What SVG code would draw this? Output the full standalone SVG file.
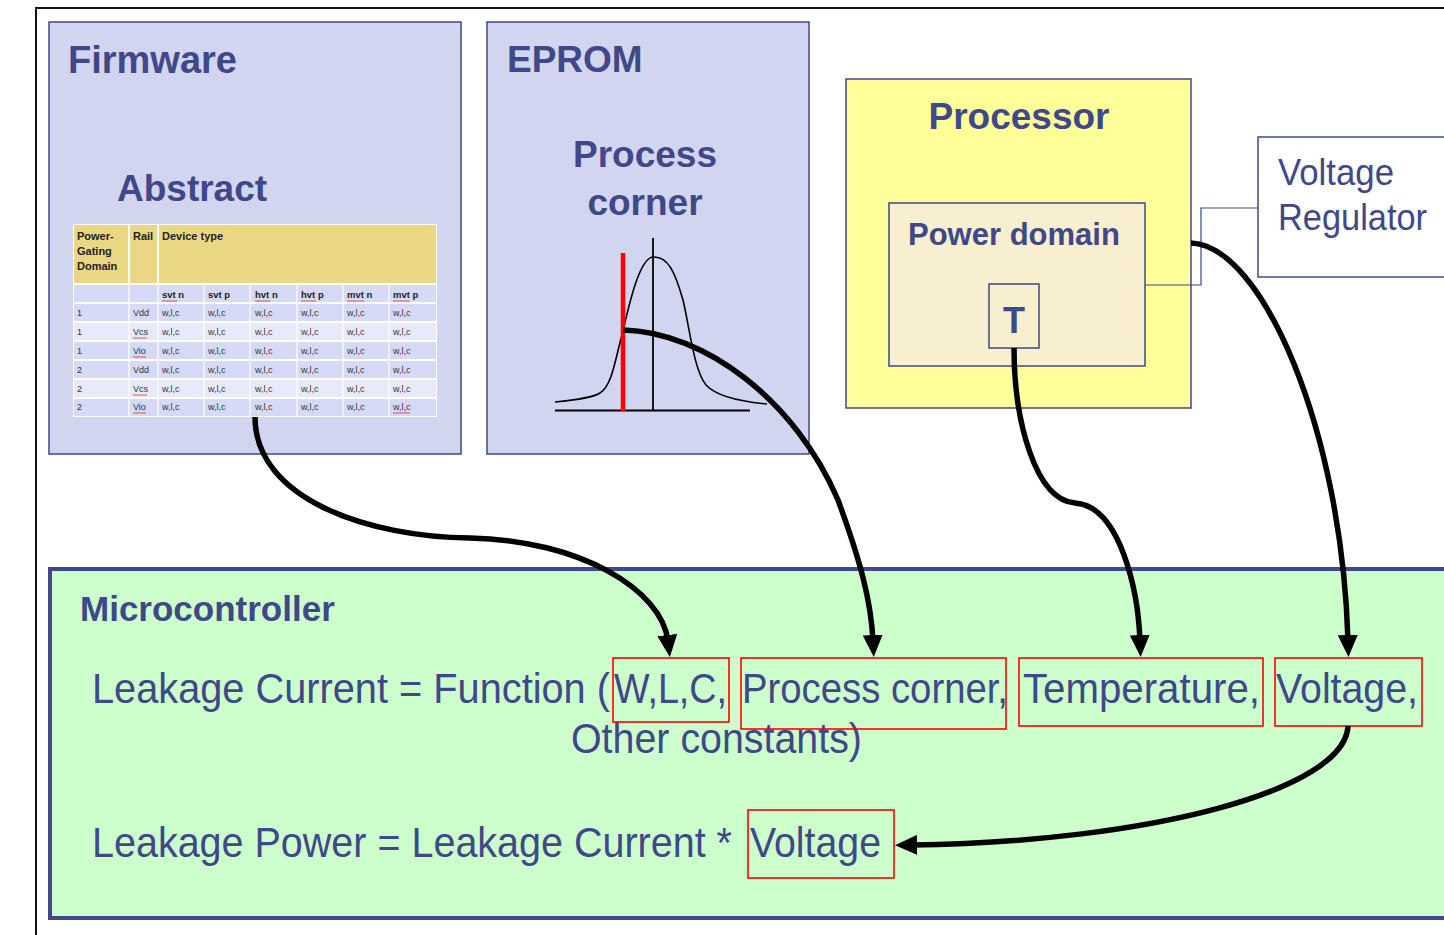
<svg xmlns="http://www.w3.org/2000/svg" width="1444" height="935" viewBox="0 0 1444 935">
<style>
.hdr{font-family:"Liberation Sans",Arial,sans-serif;font-weight:bold;fill:#404889}
.eq{font-family:"Liberation Sans",Arial,sans-serif;font-size:39.5px;fill:#404889}
.vr{font-family:"Liberation Sans",Arial,sans-serif;font-size:37px;fill:#404889}
.tb{font-family:"Liberation Sans",Arial,sans-serif;font-weight:bold;font-size:11px;fill:#222}
.ts{font-family:"Liberation Sans",Arial,sans-serif;font-weight:bold;font-size:9.5px;fill:#222}
.td{font-family:"Liberation Sans",Arial,sans-serif;font-size:9px;fill:#333}
.box{stroke:#404889;stroke-width:1.5}
.rb{fill:none;stroke:#ff0000;stroke-width:1.6}
.con{fill:none;stroke:#000;stroke-width:5.5}
.sq{stroke:#e03030;stroke-width:0.8}
</style>
<defs>
<marker id="ah" markerUnits="userSpaceOnUse" markerWidth="22" markerHeight="20" refX="6" refY="10" orient="auto">
<path d="M0,0 L22,10 L0,20 z" fill="#000"/>
</marker>
</defs>
<rect width="1444" height="935" fill="#fff"/>
<path d="M36,935 V8 H1444" fill="none" stroke="#111" stroke-width="2"/>

<g id="firmware">
<rect class="box" x="49" y="22" width="412" height="432" fill="#d1d5f0"/>
<text class="hdr" x="68" y="73" font-size="38">Firmware</text>
<text class="hdr" x="117" y="201" font-size="37">Abstract</text>
<g id="table">
<rect x="73" y="224" width="364" height="193" fill="#ffffff"/>
<rect x="74" y="225" width="54" height="58" fill="#ead783"/>
<rect x="130" y="225" width="27" height="58" fill="#ead783"/>
<rect x="159" y="225" width="277" height="58" fill="#ead783"/>
<g fill="#d6daf7">
<rect x="74" y="285" width="362" height="17"/>
<rect x="74" y="304" width="362" height="17"/>
<rect x="74" y="342" width="362" height="17"/>
<rect x="74" y="361" width="362" height="17"/>
<rect x="74" y="399" width="362" height="17"/>
</g>
<g fill="#e8eafb">
<rect x="74" y="323" width="362" height="17"/>
<rect x="74" y="380" width="362" height="17"/>
</g>
<g stroke="#ffffff" stroke-width="1.2">
<line x1="129" y1="224" x2="129" y2="417"/><line x1="158" y1="224" x2="158" y2="417"/>
<line x1="204" y1="284" x2="204" y2="417"/><line x1="250" y1="284" x2="250" y2="417"/>
<line x1="297" y1="284" x2="297" y2="417"/><line x1="343" y1="284" x2="343" y2="417"/>
<line x1="389" y1="284" x2="389" y2="417"/>
</g>
<text class="tb" x="77" y="240">Power-</text>
<text class="tb" x="77" y="255">Gating</text>
<text class="tb" x="77" y="270">Domain</text>
<text class="tb" x="133" y="240">Rail</text>
<text class="tb" x="162" y="240">Device type</text>
<text class="ts" y="298"><tspan x="162">svt n</tspan><tspan x="208">svt p</tspan><tspan x="255">hvt n</tspan><tspan x="301">hvt p</tspan><tspan x="347">mvt n</tspan><tspan x="393">mvt p</tspan></text>
<g class="sq"><line x1="162" y1="301" x2="177" y2="301"/><line x1="255" y1="301" x2="270" y2="301"/><line x1="301" y1="301" x2="316" y2="301"/><line x1="347" y1="301" x2="364" y2="301"/><line x1="393" y1="301" x2="410" y2="301"/><line x1="133" y1="338" x2="147" y2="338"/><line x1="133" y1="357" x2="146" y2="357"/><line x1="133" y1="395" x2="147" y2="395"/><line x1="133" y1="413" x2="146" y2="413"/><line x1="393" y1="413" x2="410" y2="413"/></g>
<g class="td">
<text y="316"><tspan x="77">1</tspan><tspan x="133">Vdd</tspan><tspan x="162">w,l,c</tspan><tspan x="208">w,l,c</tspan><tspan x="255">w,l,c</tspan><tspan x="301">w,l,c</tspan><tspan x="347">w,l,c</tspan><tspan x="393">w,l,c</tspan></text>
<text y="335"><tspan x="77">1</tspan><tspan x="133">Vcs</tspan><tspan x="162">w,l,c</tspan><tspan x="208">w,l,c</tspan><tspan x="255">w,l,c</tspan><tspan x="301">w,l,c</tspan><tspan x="347">w,l,c</tspan><tspan x="393">w,l,c</tspan></text>
<text y="354"><tspan x="77">1</tspan><tspan x="133">Vio</tspan><tspan x="162">w,l,c</tspan><tspan x="208">w,l,c</tspan><tspan x="255">w,l,c</tspan><tspan x="301">w,l,c</tspan><tspan x="347">w,l,c</tspan><tspan x="393">w,l,c</tspan></text>
<text y="373"><tspan x="77">2</tspan><tspan x="133">Vdd</tspan><tspan x="162">w,l,c</tspan><tspan x="208">w,l,c</tspan><tspan x="255">w,l,c</tspan><tspan x="301">w,l,c</tspan><tspan x="347">w,l,c</tspan><tspan x="393">w,l,c</tspan></text>
<text y="392"><tspan x="77">2</tspan><tspan x="133">Vcs</tspan><tspan x="162">w,l,c</tspan><tspan x="208">w,l,c</tspan><tspan x="255">w,l,c</tspan><tspan x="301">w,l,c</tspan><tspan x="347">w,l,c</tspan><tspan x="393">w,l,c</tspan></text>
<text y="410"><tspan x="77">2</tspan><tspan x="133">Vio</tspan><tspan x="162">w,l,c</tspan><tspan x="208">w,l,c</tspan><tspan x="255">w,l,c</tspan><tspan x="301">w,l,c</tspan><tspan x="347">w,l,c</tspan><tspan x="393">w,l,c</tspan></text>
</g>
</g>
</g>

<g id="eprom">
<rect class="box" x="487" y="22" width="322" height="432" fill="#d1d5f0"/>
<text class="hdr" x="507" y="72" font-size="37">EPROM</text>
<text class="hdr" x="645" y="167" font-size="37" text-anchor="middle">Process</text>
<text class="hdr" x="645" y="215" font-size="37" text-anchor="middle">corner</text>
<line x1="555" y1="410.5" x2="750" y2="410.5" stroke="#000" stroke-width="2"/>
<line x1="653" y1="238" x2="653" y2="411" stroke="#000" stroke-width="1.8"/>
<path d="M555,402 C575,400 592,398 600,393 C612,386 615,360 622,335 C630,300 640,258 653,257 C668,256 675,272 683,300 C690,330 694,370 706,385 C718,398 745,402 767,404" fill="none" stroke="#000" stroke-width="1.6"/>
<line x1="623" y1="253" x2="623" y2="411" stroke="#ff0000" stroke-width="4.5"/>
</g>

<g id="processor">
<rect class="box" x="846" y="79" width="345" height="329" fill="#ffff99" stroke-width="1.2"/>
<text class="hdr" x="1019" y="129" font-size="37" text-anchor="middle">Processor</text>
</g>
<g id="power-domain">
<rect class="box" x="889" y="203" width="256" height="163" fill="#f7efcf" stroke-width="1.2"/>
<text class="hdr" x="908" y="245" font-size="31">Power domain</text>
</g>
<g id="temp-sensor">
<rect class="box" x="989" y="284" width="50" height="64" fill="#f7efcf" stroke-width="1.2"/>
<text class="hdr" x="1014" y="333" font-size="36" text-anchor="middle">T</text>
</g>
<g id="voltage-regulator">
<rect class="box" x="1258" y="137" width="200" height="140" fill="#fff" stroke-width="1.2"/>
<text class="vr" x="1278" y="185" textLength="116" lengthAdjust="spacingAndGlyphs">Voltage</text>
<text class="vr" x="1278" y="230" textLength="149" lengthAdjust="spacingAndGlyphs">Regulator</text>
</g>

<g id="microcontroller">
<rect x="50" y="569" width="1410" height="349" fill="#ccffcc" stroke="#404889" stroke-width="4"/>
<text class="hdr" x="80" y="621" font-size="35">Microcontroller</text>
<g transform="translate(0,703) scale(1,1.07)">
<text class="eq" x="92" y="0" textLength="518" lengthAdjust="spacingAndGlyphs">Leakage Current = Function (</text>
<text class="eq" x="614" y="0" textLength="113" lengthAdjust="spacingAndGlyphs">W,L,C,</text>
<text class="eq" x="742" y="0" textLength="266" lengthAdjust="spacingAndGlyphs">Process corner,</text>
<text class="eq" x="1023" y="0" textLength="237" lengthAdjust="spacingAndGlyphs">Temperature,</text>
<text class="eq" x="1276" y="0" textLength="142" lengthAdjust="spacingAndGlyphs">Voltage,</text>
</g>
<text class="eq" transform="translate(0,753) scale(1,1.07)" x="571" y="0" textLength="291" lengthAdjust="spacingAndGlyphs">Other constants)</text>
<g transform="translate(0,857) scale(1,1.07)">
<text class="eq" x="92" y="0" textLength="640" lengthAdjust="spacingAndGlyphs">Leakage Power = Leakage Current *</text>
<text class="eq" x="750" y="0" textLength="131" lengthAdjust="spacingAndGlyphs">Voltage</text>
</g>
<rect class="rb" x="613" y="658" width="116" height="64"/>
<rect class="rb" x="741" y="658" width="265" height="71"/>
<rect class="rb" x="1019" y="658" width="244" height="68"/>
<rect class="rb" x="1275" y="658" width="147" height="68"/>
<rect class="rb" x="748" y="810" width="146" height="68"/>
</g>

<g id="connectors">
<path d="M1145,285 H1201 V208 H1258" fill="none" stroke="#404889" stroke-width="1.2"/>
<path class="con" marker-end="url(#ah)" d="M255,417 C255,500 370,537 470,538 C580,540 662,590 668,641"/>
<path class="con" marker-end="url(#ah)" d="M623,330 C705,332 795,400 838,500 C860,560 871,600 873,641"/>
<path class="con" marker-end="url(#ah)" d="M1014,348 C1014,420 1035,500 1075,503 C1120,506 1138,590 1140,641"/>
<path class="con" marker-end="url(#ah)" d="M1191,243 C1262,245 1342,430 1348,641"/>
<path class="con" marker-end="url(#ah)" d="M1348,726 C1345,790 1150,842 911,845"/>
</g>
</svg>
